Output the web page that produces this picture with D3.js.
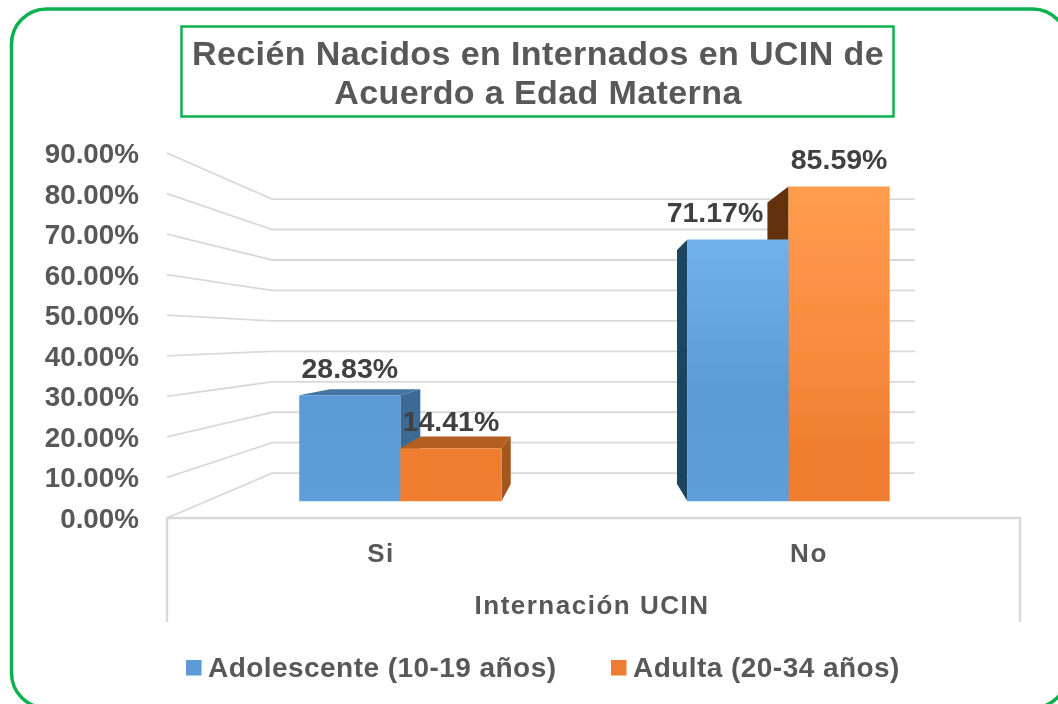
<!DOCTYPE html>
<html lang="es">
<head>
<meta charset="utf-8">
<title>Recién Nacidos en Internados en UCIN</title>
<script src="https://cdn.jsdelivr.net/npm/d3@7/dist/d3.min.js"></script>
<style>
html,body{margin:0;padding:0;background:#fff;overflow:hidden}
svg{display:block}
text{font-family:"Liberation Sans",Arial,sans-serif;font-weight:700}
</style>
</head>
<body>
<svg id="chart" width="1058" height="704"></svg>
<script>
const titleLines = ["Recién Nacidos en Internados en UCIN de", "Acuerdo a Edad Materna"];
const categories = ["Si", "No"];
const seriesNames = ["Adolescente (10-19 años)", "Adulta (20-34 años)"];
const adolescente = [28.83, 71.17];
const adulta = [14.41, 85.59];
const yTicks = [0, 10, 20, 30, 40, 50, 60, 70, 80, 90];
const xAxisTitle = "Internación UCIN";

const W = 1058, H = 704;
const svg = d3.select("#chart");
const defs = svg.append("defs");
defs.append("filter").attr("id", "soft").attr("x", "-2%").attr("y", "-2%").attr("width", "104%").attr("height", "104%")
  .append("feGaussianBlur").attr("stdDeviation", 0.45);
const root = svg.append("g").attr("filter", "url(#soft)");
root.append("rect").attr("width", W).attr("height", H).attr("fill", "#fff");

// Front plane scales of the 3D box
const y = d3.scaleLinear().domain([0, 90]).range([518, 153]);
const xBand = d3.scaleBand().domain(categories).range([167, 1023]).paddingInner(0.479).paddingOuter(0.2395);
const xSeries = d3.scaleBand().domain([0, 1]).range([0, xBand.bandwidth()]);

// Perspective: t = 0 is the front plane, t = 1 the vanishing point
const vp = [589, 338];
const WALL = 0.249, BAR_FRONT = 0.093, BAR_BACK = 0.189;
const project = (px, py, t) => [px + (vp[0] - px) * t, py + (vp[1] - py) * t];
const line = pts => "M" + pts.map(p => p.join(",")).join("L") + "Z";

// Card and title box
root.append("rect").attr("x", 11.5).attr("y", 9).attr("width", 1056).attr("height", 699).attr("rx", 35)
  .attr("fill", "#fff").attr("stroke", "#0CB14F").attr("stroke-width", 3.5);
root.append("rect").attr("x", 181.5).attr("y", 26.5).attr("width", 712).attr("height", 90)
  .attr("fill", "#fff").attr("stroke", "#0CB14F").attr("stroke-width", 2.5);
root.selectAll("text.title").data(titleLines).join("text").attr("class", "title")
  .attr("x", 538).attr("y", (d, i) => 65 + i * 39).attr("text-anchor", "middle")
  .attr("font-size", 34).attr("letter-spacing", 0.4).attr("fill", "#595959").text(d => d);

// Grid: side wall and back wall
const grid = root.append("g").attr("fill", "none").attr("stroke", "#D9D9D9").attr("stroke-width", 1.8);
yTicks.forEach(v => {
  const a = [167, y(v)], b = project(167, y(v), WALL), c = project(1023, y(v), WALL);
  grid.append("path").attr("d", `M${a}L${b}L${c}`);
});
// Floor front edge and the drop lines
grid.append("path").attr("d", `M167,622L167,${y(0)}L1020,${y(0)}L1020,622`).attr("stroke-width", 2.4);

// Gradients shared in user space
function grad(id, stops) {
  const g = defs.append("linearGradient").attr("id", id).attr("gradientUnits", "userSpaceOnUse")
    .attr("x1", 0).attr("x2", 0).attr("y1", project(0, y(85.59), BAR_FRONT)[1]).attr("y2", project(0, y(0), BAR_FRONT)[1]);
  stops.forEach(([o, c]) => g.append("stop").attr("offset", o).attr("stop-color", c));
}
grad("gBlue", [[0, "#74B6F0"], [0.2, "#6FB0EC"], [0.65, "#5B9AD7"], [1, "#5E9EDA"]]);
grad("gOrange", [[0, "#FF9D4E"], [0.5, "#F98B40"], [0.85, "#EE7D31"], [1, "#F07E33"]]);

const styles = [
  {front: "url(#gBlue)", top: "#4474A3", right: "#3A6A94", left: "#1F4460"},
  {front: "url(#gOrange)", top: "#B45F20", right: "#A5561C", left: "#633211"}
];

// Bars, far ones first so the nearer ones overlap them
const bars = [];
categories.forEach((c, ci) => {
  const vals = [adolescente[ci], adulta[ci]];
  vals.forEach((v, si) => bars.push({c, si, v}));
});
function corners(b) {
  const x0 = xBand(b.c) + xSeries(b.si), x1 = x0 + xSeries.bandwidth();
  const pt = (x, val, t) => project(x, y(val), t);
  return {
    fl0: pt(x0, 0, BAR_FRONT), fl1: pt(x1, 0, BAR_FRONT), ft0: pt(x0, b.v, BAR_FRONT), ft1: pt(x1, b.v, BAR_FRONT),
    bl0: pt(x0, 0, BAR_BACK), bl1: pt(x1, 0, BAR_BACK), bt0: pt(x0, b.v, BAR_BACK), bt1: pt(x1, b.v, BAR_BACK)
  };
}
const ordered = bars.slice().sort((a, b) => {
  if (a.c !== b.c) return 0;
  return a.c === "Si" ? a.si - b.si : b.si - a.si;
});
const barG = root.append("g");
ordered.forEach(b => {
  const k = corners(b), s = styles[b.si], g = barG.append("g");
  if (k.bt0[1] < k.ft0[1]) g.append("path").attr("d", line([k.ft0, k.ft1, k.bt1, k.bt0])).attr("fill", s.top);
  if (k.bt1[0] > k.ft1[0]) g.append("path").attr("d", line([k.ft1, k.bt1, k.bl1, k.fl1])).attr("fill", s.right);
  if (k.bt0[0] < k.ft0[0]) g.append("path").attr("d", line([k.ft0, k.bt0, k.bl0, k.fl0])).attr("fill", s.left);
  g.append("path").attr("d", line([k.ft0, k.ft1, k.fl1, k.fl0])).attr("fill", s.front);
});

// Data labels
root.selectAll("text.dl").data(bars).join("text").attr("class", "dl")
  .attr("x", b => {
    const k = corners(b);
    return (k.ft0[0] + k.ft1[0]) / 2 + (b.c === "No" && b.si === 0 ? -23 : 0);
  })
  .attr("y", b => corners(b).ft0[1] - 17)
  .attr("text-anchor", "middle").attr("font-size", 28.5).attr("fill", "#404040")
  .text(b => b.v.toFixed(2) + "%");

// Axes
const yAxis = d3.axisLeft(y).tickValues(yTicks).tickSize(0).tickPadding(0).tickFormat(d => d3.format(".2f")(d) + "%");
const yg = root.append("g").attr("transform", "translate(139,0)").call(yAxis);
yg.select(".domain").remove();
yg.selectAll("text").attr("font-size", 27.8).attr("fill", "#595959").attr("dy", "0.34em")
  .style("font-family", '"Liberation Sans"').style("font-weight", 700);

const xAxis = d3.axisBottom(xBand).tickSize(0).tickPadding(0);
const xg = root.append("g").attr("transform", "translate(0,544)").call(xAxis);
xg.select(".domain").remove();
xg.selectAll("text").attr("font-size", 26).attr("fill", "#595959").attr("letter-spacing", 1.6).attr("dy", "0.71em")
  .style("font-family", '"Liberation Sans"').style("font-weight", 700);

root.append("text").attr("x", 592).attr("y", 614).attr("text-anchor", "middle")
  .attr("font-size", 26).attr("letter-spacing", 1.5).attr("fill", "#595959").text(xAxisTitle);

// Legend
const legendX = d3.scaleOrdinal().domain(seriesNames).range([186, 611]);
const legendFill = d3.scaleOrdinal().domain(seriesNames).range(["#5B9BD5", "#ED7D31"]);
const lg = root.selectAll("g.lg").data(seriesNames).join("g").attr("class", "lg")
  .attr("transform", d => `translate(${legendX(d)},660)`);
lg.append("rect").attr("width", 15.5).attr("height", 15.5).attr("fill", d => legendFill(d));
lg.append("text").attr("x", 22).attr("y", 17).attr("font-size", 28).attr("letter-spacing", 0.45)
  .attr("fill", "#595959").text(d => d);
</script>
</body>
</html>
